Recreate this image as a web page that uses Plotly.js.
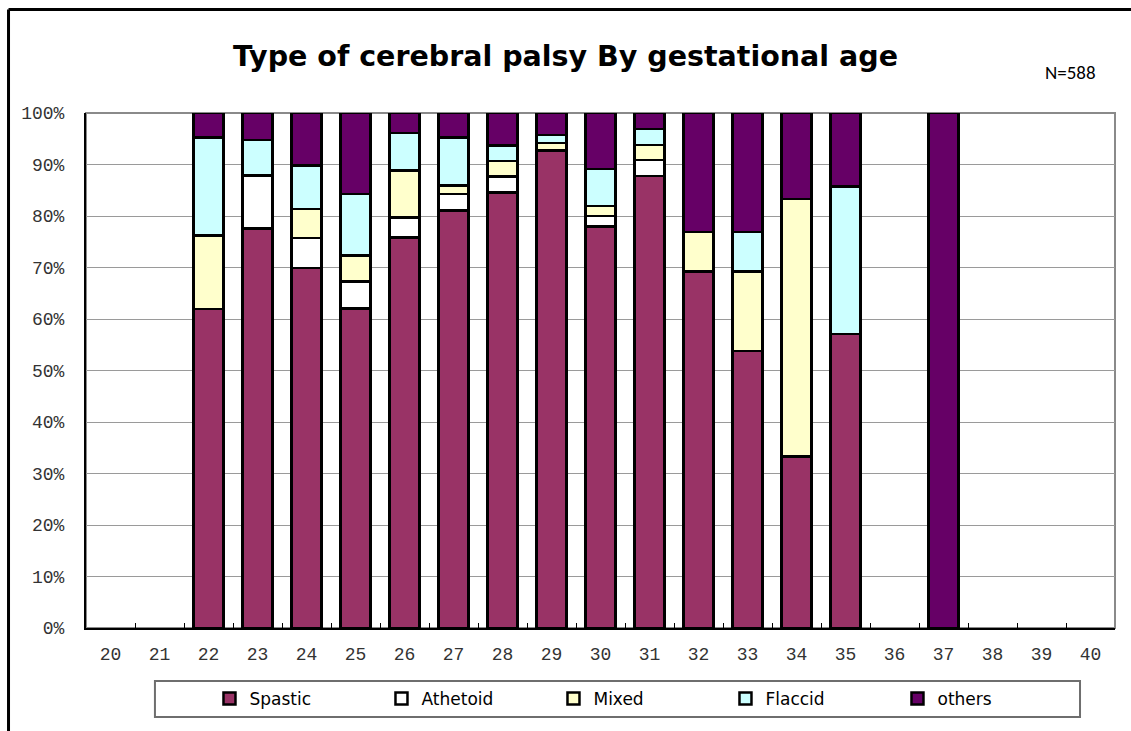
<!DOCTYPE html>
<html>
<head>
<meta charset="utf-8">
<script src="https://cdn.plot.ly/plotly-3.0.1.min.js"></script>
<style>
  html, body { margin: 0; padding: 0; background: #fff; }
  #chart { width: 1131px; height: 731px; }
</style>
</head>
<body>
<div id="chart"></div>
<script>
const ages = ['20', '21', '22', '23', '24', '25', '26', '27', '28', '29', '30',
  '31', '32', '33', '34', '35', '36', '37', '38', '39', '40'];

// percentages per gestational age (null = no bar segment)
const spastic  = [null, null, 61.9, 77.6, 69.9, 62.0, 75.8, 81.1, 84.6, 92.7, 78.0, 87.8, 69.2, 53.8, 33.3, 57.1, null, null, null, null, null];
const athetoid = [null, null, null, 10.3, 5.8, 5.3, 3.9, 3.2, 3.1, null, 2.0, 3.1, null, null, null, null, null, null, null, null, null];
const mixed    = [null, null, 14.3, null, 5.7, 5.0, 9.1, 1.6, 3.0, 1.5, 1.9, 2.9, 7.7, 15.4, 50.0, null, null, null, null, null, null];
const flaccid  = [null, null, 19.0, 6.9, 8.4, 12.0, 7.3, 9.3, 3.0, 1.5, 7.2, 3.1, null, 7.7, null, 28.6, null, null, null, null, null];
const others   = [null, null, 4.8, 5.2, 10.2, 15.7, 3.9, 4.8, 6.3, 4.3, 10.9, 3.1, 23.1, 23.1, 16.7, 14.3, null, 100, null, null, null];

const yTicks = [0, 10, 20, 30, 40, 50, 60, 70, 80, 90, 100];
const yTickText = yTicks.map(v => v + '%');

function serie(nombre, valores, color) {
  return {
    x: ages,
    y: valores,
    type: 'bar',
    name: nombre,
    marker: { color: color, line: { color: '#000000', width: 2.5 } },
    hoverinfo: 'skip'
  };
}

const trazas = [
  serie('Spastic', spastic, '#993366'),
  serie('Athetoid', athetoid, '#ffffff'),
  serie('Mixed', mixed, '#ffffcc'),
  serie('Flaccid', flaccid, '#ccffff'),
  serie('others', others, '#660066')
];

const monoFont = { family: 'Liberation Mono, monospace', size: 18, color: '#333333' };

const layout = {
  width: 1131,
  height: 731,
  paper_bgcolor: '#ffffff',
  plot_bgcolor: '#ffffff',
  margin: { l: 86, r: 16, t: 113, b: 103 },
  barmode: 'stack',
  bargap: 0.39,
  showlegend: true,
  title: {
    text: '<b>Type of cerebral palsy By gestational age</b>',
    font: { family: 'DejaVu Sans, sans-serif', size: 28.5, color: '#000000' },
    x: 584,
    xref: 'container',
    xanchor: 'center',
    y: 731 - 51,
    yref: 'container',
    yanchor: 'middle'
  },
  xaxis: {
    type: 'category',
    categoryorder: 'array',
    categoryarray: ages,
    range: [-0.5, 20.5],
    tickfont: monoFont,
    ticks: 'inside',
    tickson: 'boundaries',
    ticklen: 5,
    tickcolor: '#000000',
    showline: true,
    linecolor: '#000000',
    linewidth: 2,
    showgrid: false,
    ticklabelstandoff: 8,
    fixedrange: true
  },
  yaxis: {
    range: [0, 100],
    tickmode: 'array',
    tickvals: yTicks,
    ticktext: yTickText,
    tickfont: monoFont,
    showgrid: true,
    gridcolor: '#9a9a9a',
    gridwidth: 1,
    showline: true,
    linecolor: '#000000',
    linewidth: 2,
    zeroline: false,
    ticks: '',
    ticklabelstandoff: 16,
    fixedrange: true
  },
  legend: {
    orientation: 'h',
    traceorder: 'normal',
    x: 0.12,
    xanchor: 'left',
    y: -0.138,
    yanchor: 'middle',
    entrywidth: 127,
    entrywidthmode: 'pixels',
    itemwidth: 30,
    bgcolor: 'rgba(0,0,0,0)',
    borderwidth: 0,
    font: { family: 'DejaVu Sans, sans-serif', size: 17, color: '#000000' }
  },
  shapes: [
    // plot area border
    { type: 'rect', xref: 'paper', yref: 'paper', x0: 0, x1: 1, y0: 0, y1: 1,
      line: { color: '#8a8a8a', width: 2 }, layer: 'below' },
    // legend box
    { type: 'rect', xref: 'paper', yref: 'paper', x0: 0.067, x1: 0.966, y0: -0.103, y1: -0.173,
      line: { color: '#6e6e6e', width: 2 }, fillcolor: 'rgba(0,0,0,0)' },
    // outer chart frame (top and left edges)
    { type: 'line', xref: 'paper', yref: 'paper', x0: -0.0753, x1: 1.2, y0: 1.201, y1: 1.201,
      line: { color: '#000000', width: 3 } },
    { type: 'line', xref: 'paper', yref: 'paper', x0: -0.0753, x1: -0.0753, y0: 1.201, y1: -0.4,
      line: { color: '#000000', width: 3 } }
  ],
  annotations: [
    { text: 'N=588', xref: 'paper', yref: 'paper', x: 0.983, y: 1.079,
      xanchor: 'right', yanchor: 'middle', showarrow: false,
      font: { family: 'Carlito, Liberation Sans, sans-serif', size: 19, color: '#000000' } }
  ]
};

Plotly.newPlot('chart', trazas, layout, { displayModeBar: false, staticPlot: true });
</script>
</body>
</html>
